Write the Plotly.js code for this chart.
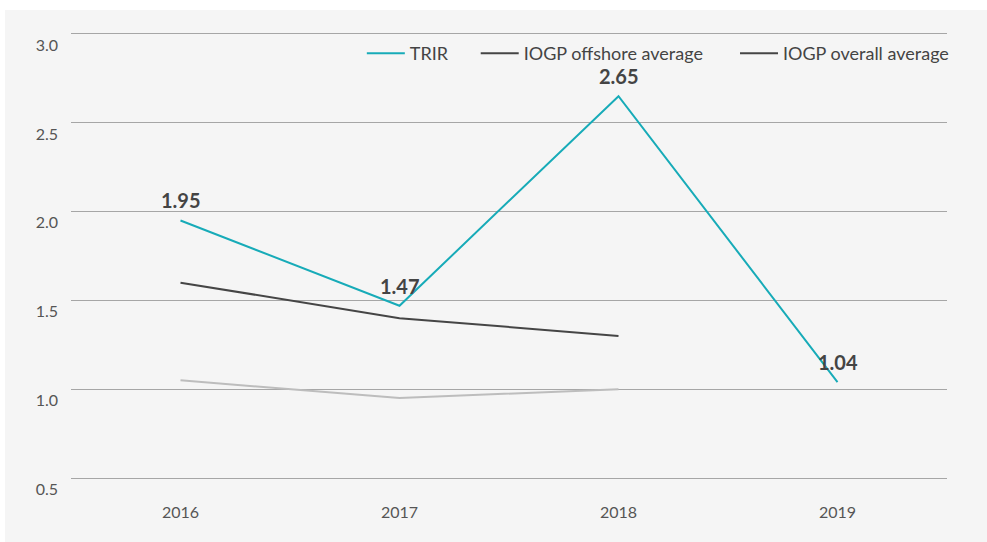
<!DOCTYPE html>
<html>
<head>
<meta charset="utf-8">
<script src="https://cdn.plot.ly/plotly-3.0.1.min.js"></script>
<style>
  html, body { margin: 0; padding: 0; background: #ffffff; width: 987px; height: 542px; overflow: hidden; }
  #chart { position: absolute; left: 5px; top: 10px; width: 982px; height: 532px; }
</style>
</head>
<body>
<div id="chart"></div>
<script>
const years = ["2016", "2017", "2018", "2019"];
const trir = [1.95, 1.47, 2.65, 1.04];
const trirLabels = ["1.95", "1.47", "2.65", "1.04"];
const offshoreYears = ["2016", "2017", "2018"];
const offshoreAvg = [1.60, 1.40, 1.30];
const overallYears = ["2016", "2017", "2018"];
const overallAvg = [1.05, 0.95, 1.00];
const yTicks = [0.5, 1.0, 1.5, 2.0, 2.5, 3.0];
const yTickText = ["0.5", "1.0", "1.5", "2.0", "2.5", "3.0"];

const FONT = "Lato, 'Open Sans', sans-serif";

const traces = [
  {
    type: "scatter", mode: "lines", name: "IOGP overall average",
    x: overallYears, y: overallAvg,
    line: { color: "#bdbdbd", width: 2 },
    showlegend: false, hoverinfo: "skip"
  },
  {
    type: "scatter", mode: "lines", name: "IOGP offshore average",
    x: offshoreYears, y: offshoreAvg,
    line: { color: "#454545", width: 2 },
    legend: "legend2", hoverinfo: "skip"
  },
  {
    type: "scatter", mode: "lines", name: "TRIR",
    x: years, y: trir,
    line: { color: "#17abb8", width: 2 },
    legend: "legend", hoverinfo: "skip"
  },
  {
    type: "scatter", mode: "lines", name: "IOGP overall average",
    x: [null], y: [null],
    line: { color: "#454545", width: 2 },
    legend: "legend3", hoverinfo: "skip"
  }
];

// category index positions of the years on the category axis
const annotations = years.map((yr, i) => ({
  x: years.indexOf(yr), y: trir[i], xref: "x", yref: "y",
  text: trirLabels[i], showarrow: false,
  xanchor: "center", yanchor: "bottom", yshift: 6,
  font: { family: FONT, size: 20, color: "#444444", weight: 700 }
}));

const legendBase = {
  orientation: "h", yanchor: "middle", y: 0.956, xanchor: "left",
  bgcolor: "rgba(0,0,0,0)", borderwidth: 0, itemwidth: 38,
  font: { family: FONT, size: 18, color: "#444444" }
};

const layout = {
  width: 982, height: 532,
  paper_bgcolor: "#f5f5f5", plot_bgcolor: "#f5f5f5",
  margin: { l: 66, r: 40, t: 24, b: 64 },
  font: { family: FONT, size: 16, color: "#555555" },
  xaxis: {
    type: "category", range: [-0.5, 3.5],
    showgrid: false, zeroline: false,
    showline: true, mirror: true, linecolor: "#a6a6a6", linewidth: 1,
    ticks: "", ticklabelstandoff: 20,
    tickfont: { family: FONT, size: 16, color: "#555555" }
  },
  yaxis: {
    range: [0.5, 3.0], tickvals: yTicks, ticktext: yTickText,
    showgrid: true, gridcolor: "#a6a6a6", gridwidth: 1,
    zeroline: false, showline: false, ticks: "",
    ticklabelposition: "outside bottom", ticklabelstandoff: 12,
    tickfont: { family: FONT, size: 16, color: "#555555" }
  },
  annotations: annotations,
  legend: Object.assign({}, legendBase, { x: 0.332 }),
  legend2: Object.assign({}, legendBase, { x: 0.462 }),
  legend3: Object.assign({}, legendBase, { x: 0.758 }),
  showlegend: true
};

Plotly.newPlot("chart", traces, layout, { displayModeBar: false, staticPlot: true });
</script>
</body>
</html>
